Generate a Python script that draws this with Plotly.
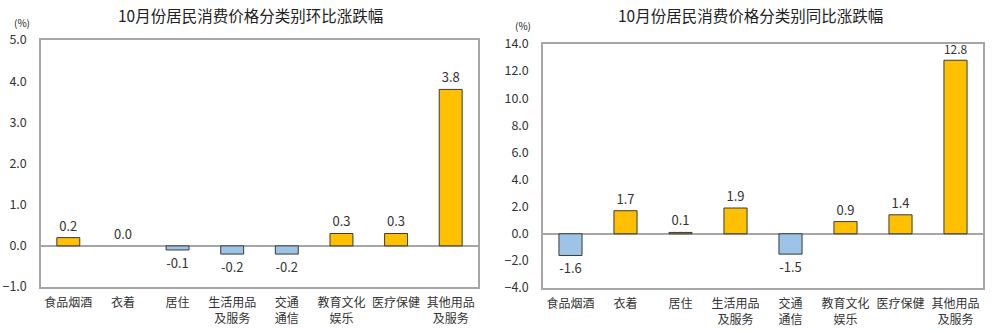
import plotly.graph_objects as go

categories = ["食品烟酒", "衣着", "居住", "生活用品<br>及服务", "交通<br>通信",
              "教育文化<br>娱乐", "医疗保健", "其他用品<br>及服务"]
mom_values = [0.2, 0.0, -0.1, -0.2, -0.2, 0.3, 0.3, 3.8]
yoy_values = [-1.6, 1.7, 0.1, 1.9, -1.5, 0.9, 1.4, 12.8]

left_title = "10月份居民消费价格分类别环比涨跌幅"
right_title = "10月份居民消费价格分类别同比涨跌幅"

POS = "#FFC000"
NEG = "#9DC3E6"
FONT = "Noto Sans CJK SC"
TXT = "#333333"
W, H = 1000, 332


def bar_colors(vals):
    return [POS if v >= 0 else NEG for v in vals]


def px_note(text, x, y, size):
    # place a text label at a pixel position of the figure
    return dict(text=text, x=x / W, y=1 - y / H, xref="paper", yref="paper",
                xanchor="center", yanchor="middle", showarrow=False,
                font=dict(family=FONT, size=size, color="#222222"))


fig = go.Figure()
for vals, xa, ya in [(mom_values, "x", "y"), (yoy_values, "x2", "y2")]:
    fig.add_trace(go.Bar(
        x=categories, y=vals, xaxis=xa, yaxis=ya,
        marker=dict(color=bar_colors(vals),
                    line=dict(color="#3a3a3a",
                              width=[0 if v == 0 else 1 for v in vals])),
        width=0.42,
        text=[f"{v:.1f}" for v in vals], textposition="outside",
        textfont=dict(family=FONT, size=13, color=TXT),
        cliponaxis=False, showlegend=False,
    ))

axis_common = dict(showline=True, mirror=True, linecolor="#A6A6A6", linewidth=1.5,
                   showgrid=False, ticks="", automargin=False)
x_font = dict(family=FONT, size=12, color=TXT)
y_font = dict(family=FONT, size=12.5, color=TXT)

fig.update_layout(
    width=W, height=H,
    margin=dict(l=0, r=0, t=0, b=0),
    paper_bgcolor="white", plot_bgcolor="white",
    font=dict(family=FONT, color=TXT),
    xaxis=dict(domain=[0.041, 0.478], anchor="y", ticklabelstandoff=4,
               tickfont=x_font, **axis_common),
    yaxis=dict(domain=[0.1355, 0.8795], anchor="x", range=[-1, 5], dtick=1,
               tickformat=".1f", zeroline=True, zerolinecolor="#A6A6A6",
               zerolinewidth=1.5, ticklabelstandoff=10, tickfont=y_font,
               **axis_common),
    xaxis2=dict(domain=[0.543, 0.983], anchor="y2", ticklabelstandoff=4,
                tickfont=x_font, **axis_common),
    yaxis2=dict(domain=[0.1325, 0.8675], anchor="x2", range=[-4, 14], dtick=2,
                tickformat=".1f", zeroline=True, zerolinecolor="#A6A6A6",
                zerolinewidth=1.5, ticklabelstandoff=10, tickfont=y_font,
                **axis_common),
    annotations=[
        px_note(left_title, 250, 15, 15.5),
        px_note(right_title, 750, 15, 15.5),
        px_note("(%)", 22, 23, 10),
        px_note("(%)", 523, 26, 10),
    ],
)

fig.write_html("out.html")
